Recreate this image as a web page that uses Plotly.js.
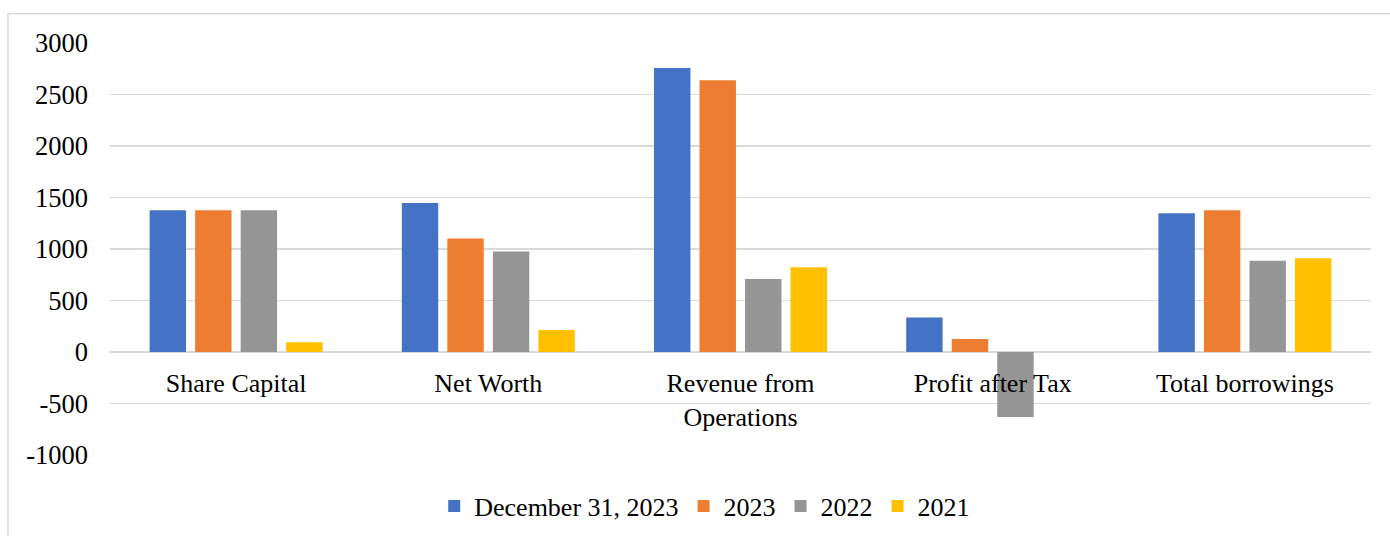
<!DOCTYPE html>
<html>
<head>
<meta charset="utf-8">
<script src="https://cdn.plot.ly/plotly-3.0.1.min.js"></script>
<style>
html,body{margin:0;padding:0;background:#fff;}
#chart{width:1390px;height:536px;}
</style>
</head>
<body>
<div id="chart"></div>
<script>
const categories = ["Share Capital", "Net Worth", "Revenue from<br>Operations", "Profit after Tax", "Total borrowings"];
const seriesNames = ["December 31, 2023", "2023", "2022", "2021"];
const dec2023 = [1376, 1447, 2757, 334, 1347];
const fy2023 = [1376, 1101, 2638, 126, 1376];
const fy2022 = [1376, 975, 709, -631, 887];
const fy2021 = [94, 214, 822, null, 910];
const yTicks = [-1000, -500, 0, 500, 1000, 1500, 2000, 2500, 3000];
const colors = ["#4472C4", "#ED7D31", "#959595", "#FFC000"];

const allValues = [dec2023, fy2023, fy2022, fy2021];
const traces = allValues.map((vals, i) => ({
  type: "bar",
  name: seriesNames[i],
  x: categories,
  y: vals,
  marker: {color: colors[i], line: {width: 0}},
  hoverinfo: "x+y+name"
}));

const font = "Liberation Serif";
const layout = {
  width: 1390,
  height: 536,
  margin: {l: 110, r: 19, t: 43, b: 81},
  paper_bgcolor: "#ffffff",
  plot_bgcolor: "#ffffff",
  barmode: "group",
  bargap: 0.278,
  bargroupgap: 0.2,
  font: {family: font, size: 26, color: "#000"},
  xaxis: {
    type: "category",
    anchor: "free",
    position: 0.25,
    layer: "above traces",
    showgrid: false,
    showline: false,
    zeroline: false,
    ticks: "",
    ticklabelstandoff: 13,
    automargin: false,
    tickfont: {family: font, size: 26, color: "#000"}
  },
  yaxis: {
    range: [-1000, 3000],
    tickvals: yTicks,
    ticktext: yTicks.map(String),
    showgrid: true,
    gridcolor: "#d9d9d9",
    gridwidth: 1.5,
    zeroline: true,
    zerolinecolor: "#d9d9d9",
    zerolinewidth: 1.5,
    showline: false,
    ticks: "",
    ticklabelstandoff: 21,
    automargin: false,
    tickfont: {family: font, size: 26.5, color: "#000"}
  },
  showlegend: true,
  legend: {
    orientation: "h",
    xref: "container",
    yref: "container",
    x: 0.507, xanchor: "center",
    y: 0.056, yanchor: "middle",
    font: {family: font, size: 26, color: "#000"},
    itemwidth: 30,
    traceorder: "normal"
  },
  shapes: [{
    type: "rect", xref: "paper", yref: "paper",
    x0: -0.0809, x1: 1.03, y0: -0.25, y1: 1.0709,
    line: {color: "#d9d9d9", width: 1.5},
    fillcolor: "rgba(0,0,0,0)",
    layer: "below"
  }]
};

Plotly.newPlot("chart", traces, layout, {displayModeBar: false, staticPlot: true});
</script>
</body>
</html>
